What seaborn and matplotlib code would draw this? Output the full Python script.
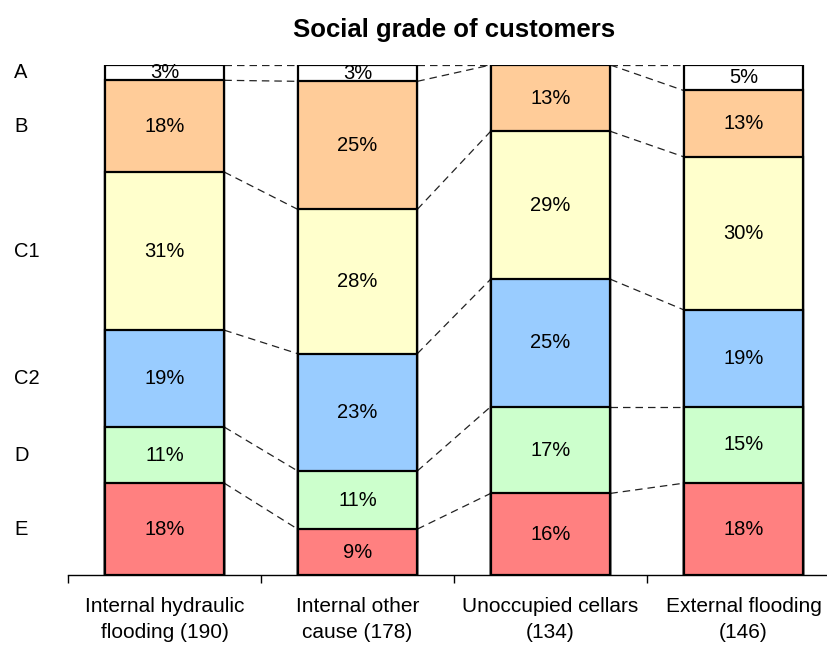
import pandas as pd
import matplotlib
matplotlib.use("Agg")
import matplotlib.pyplot as plt
import matplotlib.transforms as mtransforms
import seaborn as sns

# Values (percent of customers per social grade)
categories = ["Internal hydraulic\nflooding (190)", "Internal other\ncause (178)",
              "Unoccupied cellars\n(134)", "External flooding\n(146)"]
grades = ["E", "D", "C2", "C1", "B", "A"]  # bottom to top
grade_e = [18, 9, 16, 18]
grade_d = [11, 11.4, 17, 15]
grade_c2 = [19, 23, 25, 19]
grade_c1 = [31, 28.3, 29, 30]
grade_b = [18, 25.1, 13, 13]
grade_a = [3, 3.2, 0, 5]
colours = {"E": "#FF8080", "D": "#CCFFCC", "C2": "#99CCFF",
           "C1": "#FFFFCC", "B": "#FFCC99", "A": "#FFFFFF"}

values = {"E": grade_e, "D": grade_d, "C2": grade_c2,
          "C1": grade_c1, "B": grade_b, "A": grade_a}

# long table with cumulative tops for the stacking
rows = []
for i, cat in enumerate(categories):
    cum = 0
    for g in grades:
        v = values[g][i]
        rows.append({"category": cat, "grade": g, "value": v,
                     "bottom": cum, "top": cum + v, "pos": i})
        cum += v
df = pd.DataFrame(rows)

sns.set_style("white")
plt.rcParams["font.family"] = ["Liberation Sans", "DejaVu Sans"]
plt.rcParams["text.color"] = "black"
plt.rcParams["xtick.color"] = "black"

fig = plt.figure(figsize=(8.27, 6.45), dpi=100)
ax = fig.add_axes([68 / 827, 70 / 645, 772 / 827, 510 / 645])

bar_w = 0.62
# draw cumulative bars from the top grade down so lower ones overlay
for g in reversed(grades):
    sub = df[df["grade"] == g]
    sns.barplot(data=sub, x="category", y="top", order=categories,
                color=colours[g], saturation=1, edgecolor="black",
                linewidth=1.6, width=bar_w, ax=ax)

# percentage labels
for _, r in df.iterrows():
    if r["value"] > 0:
        ax.text(r["pos"], r["bottom"] + r["value"] / 2, f"{r['value']:.0f}%",
                ha="center", va="center", fontsize=14.5, color="black")

# dashed connectors between segment tops of neighbouring bars
for i in range(len(categories) - 1):
    left = df[df["pos"] == i]["top"].tolist()
    right = df[df["pos"] == i + 1]["top"].tolist()
    for y0, y1 in zip(left, right):
        ax.plot([i + bar_w / 2, i + 1 - bar_w / 2], [y0, y1], color="#222222",
                lw=0.9, ls=(0, (6, 4)), zorder=0)

# grade names on the left, level with the first bar's segments
trans = mtransforms.blended_transform_factory(fig.transFigure, ax.transData)
first = df[df["pos"] == 0]
for _, r in first.iterrows():
    ax.text(14 / 827, r["bottom"] + r["value"] / 2, r["grade"], transform=trans,
            ha="left", va="center", fontsize=14.5, color="black")

ax.set_xlim(-0.5, 3.5)
ax.set_ylim(0, 100)
ax.set_xlabel("")
ax.set_ylabel("")
ax.set_yticks([])
for side in ["left", "top", "right"]:
    ax.spines[side].set_visible(False)
ax.spines["bottom"].set_color("black")
ax.spines["bottom"].set_linewidth(1)
ax.set_xticks(range(len(categories)))
ax.set_xticklabels(categories, fontsize=15, color="black", linespacing=1.45)
ax.set_xticks([-0.5, 0.5, 1.5, 2.5, 3.5], minor=True)
ax.tick_params(axis="x", which="major", bottom=False, length=0, pad=16)
ax.tick_params(axis="x", which="minor", bottom=True, length=6, direction="out",
               color="black", width=1)

ax.set_title("Social grade of customers", fontsize=18.5, fontweight="bold",
             pad=20, color="black")

fig.savefig("out.png", dpi=100)
